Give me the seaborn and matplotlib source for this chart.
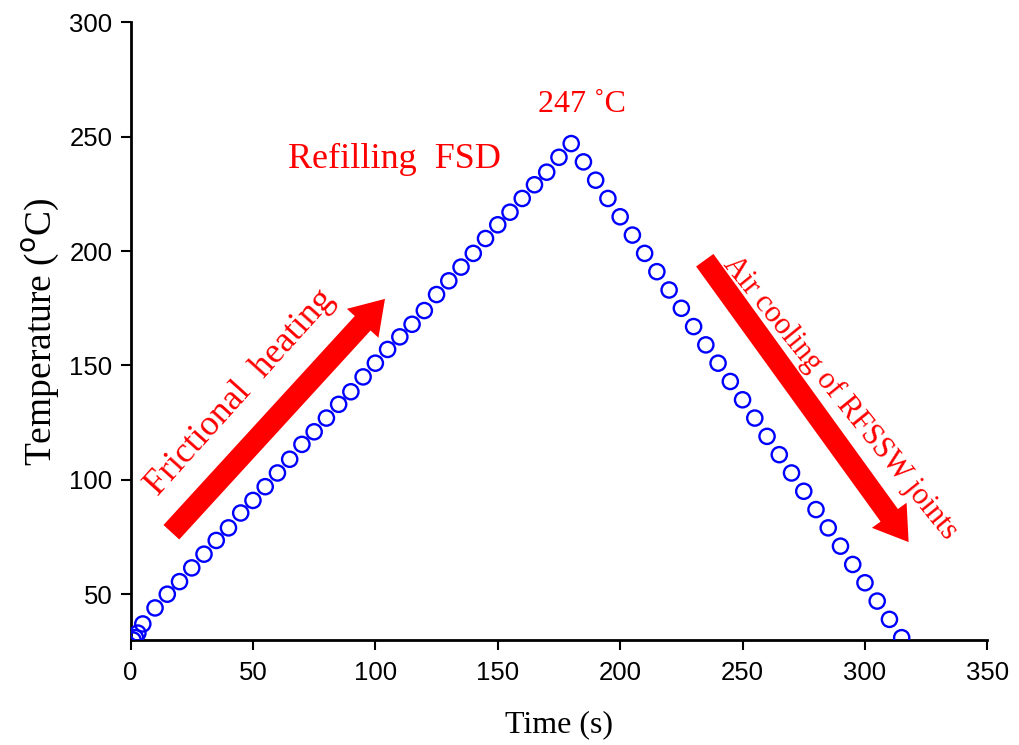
import matplotlib
matplotlib.use("Agg")
import matplotlib.pyplot as plt
import seaborn as sns
import pandas as pd

# ---- data ----
heat_time = [1, 2, 3, 5, 10, 15, 20, 25, 30, 35, 40, 45, 50, 55, 60, 65, 70, 75, 80, 85,
             90, 95, 100, 105, 110, 115, 120, 125, 130, 135, 140, 145, 150, 155, 160, 165,
             170, 175, 180]
heat_temp = [30, 31, 33, 37, 44, 50, 55.5, 61.5, 67.5, 73.5, 79, 85.5, 91, 97, 103, 109,
             115.5, 121, 127, 133, 138.5, 145, 151, 157, 162.5, 168, 174, 181, 187, 193,
             199, 205.5, 211.5, 217, 223, 229, 234.5, 241, 247]
cool_time = [185, 190, 195, 200, 205, 210, 215, 220, 225, 230, 235, 240, 245, 250, 255,
             260, 265, 270, 275, 280, 285, 290, 295, 300, 305, 310, 315]
cool_temp = [239, 231, 223, 215, 207, 199, 191, 183, 175, 167, 159, 151, 143, 135, 127,
             119, 111, 103, 95, 87, 79, 71, 63, 55, 47, 39, 31]

x_ticks = [0, 50, 100, 150, 200, 250, 300, 350]
y_ticks = [50, 100, 150, 200, 250, 300]

df = pd.DataFrame({"Time": heat_time + cool_time, "Temp": heat_temp + cool_temp})

sns.set_style("ticks")
plt.rcParams["font.family"] = ["Liberation Sans", "DejaVu Sans"]

fig = plt.figure(figsize=(10.2, 7.45), dpi=100)
ax = fig.add_axes([0.128, 0.141, 0.840, 0.829])

sns.scatterplot(data=df, x="Time", y="Temp", ax=ax, marker="o", s=120,
                facecolor="none", edgecolor="#0000FF", linewidth=1.7, zorder=3)

ax.set_xlim(0, 350)
ax.set_ylim(30, 300)
ax.set_xticks(x_ticks)
ax.set_yticks(y_ticks)
ax.tick_params(axis="both", direction="out", length=7, width=1.5, labelsize=18.5,
               colors="black")
ax.tick_params(axis="x", pad=8)
ax.tick_params(axis="y", pad=6)
for s in ["left", "bottom"]:
    ax.spines[s].set_linewidth(2)
    ax.spines[s].set_color("black")
sns.despine(ax=ax)

serif = ["Liberation Serif", "DejaVu Serif"]
ax.set_xlabel("Time (s)", fontsize=23, family=serif, labelpad=18, color="black")
ax.set_ylabel(r"Temperature ($^{\mathrm{o}}$C)", fontsize=27, family=serif, labelpad=6,
              color="black")

red = "#FF0000"
ax.text(184.5, 264, "247 \u02daC", color=red, fontsize=23, family=serif, ha="center", va="center")
ax.text(108, 240, "Refilling  FSD", color=red, fontsize=26, family=serif, ha="center", va="center")
ax.text(45, 138, "Frictional  heating", color=red, fontsize=26, family=serif,
        ha="center", va="center", rotation=48, rotation_mode="anchor")
ax.text(290, 136, "Air cooling of RFSSW joints", color=red, fontsize=22, family=serif,
        ha="center", va="center", rotation=-51, rotation_mode="anchor")

ax.annotate("", xy=(104.7, 180.0), xytext=(15.9, 76.2),
            arrowprops=dict(arrowstyle="simple,head_width=2.2,head_length=1.7,tail_width=1.1",
                            color=red, lw=0, mutation_scale=14), zorder=2)
ax.annotate("", xy=(318.5, 71.8), xytext=(233.9, 197.0),
            arrowprops=dict(arrowstyle="simple,head_width=2.2,head_length=1.7,tail_width=1.1",
                            color=red, lw=0, mutation_scale=14), zorder=2)

fig.savefig("out.png", dpi=100)
